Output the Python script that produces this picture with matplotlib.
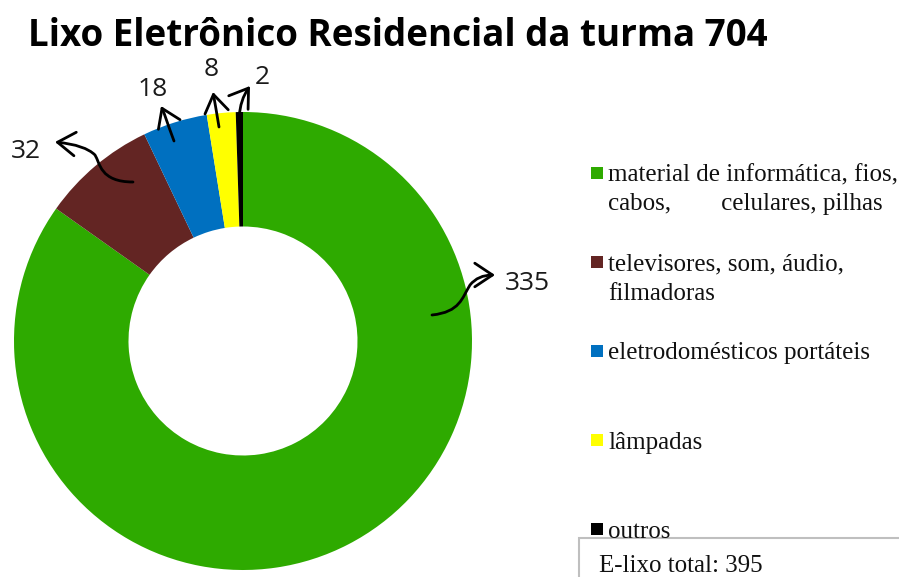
import matplotlib
matplotlib.use("Agg")
import matplotlib.pyplot as plt
from matplotlib.patches import Rectangle, FancyArrowPatch
from matplotlib.path import Path

# data
categories = ["material de informática, fios,\ncabos,        celulares, pilhas",
              "televisores, som, áudio,\nfilmadoras",
              "eletrodomésticos portáteis",
              "lâmpadas",
              "outros"]
values = [335, 32, 18, 8, 2]
colors = ["#2eaa00", "#632523", "#0070c0", "#ffff00", "#000000"]
total = 395

W, H = 899, 577
fig = plt.figure(figsize=(W / 100, H / 100), dpi=100)

# donut: center (243, 341) px, radius 229 px
R = 229
ax = fig.add_axes([(243 - R) / W, (H - 341 - R) / H, 2 * R / W, 2 * R / H])
ax.pie(values, colors=colors, startangle=90, counterclock=False,
       wedgeprops=dict(width=0.5, edgecolor="none"))
ax.set_xlim(-1, 1)
ax.set_ylim(-1, 1)
ax.set_aspect("equal")

fig.text(28 / W, 1 - 36 / H, "Lixo Eletrônico Residencial da turma 704",
         fontsize=26.5, fontweight="bold", family="Open Sans", va="center", ha="left")

# value labels with hand-drawn style arrows (pie data coords)
def px(x, y):
    return ((x - 243) / R, (341 - y) / R)

lab_font = dict(fontsize=19, family="Open Sans", color="#1a1a1a")

# each: text pos, bezier path points
labels = [
    (values[0], px(527, 283), [px(432, 315), px(460, 312), px(462, 298), px(470, 285), px(478, 275), px(495, 275)]),
    (values[1], px(26, 152), [px(133, 182), px(100, 182), px(100, 163), px(95, 155), px(85, 145), px(55, 142)]),
    (values[2], px(153, 90), [px(174, 141), px(168, 125), px(165, 115), px(161, 106)]),
    (values[3], px(211, 70), [px(219, 127), px(217, 115), px(215, 103), px(213, 92)]),
    (values[4], px(262, 77), [px(239, 118), px(240, 105), px(243, 96), px(250, 86)]),
]

for v, tpos, pts in labels:
    ax.text(tpos[0], tpos[1], str(v), ha="center", va="center", **lab_font)
    if len(pts) == 6:
        codes = [Path.MOVETO] + [Path.CURVE4] * 3 + [Path.CURVE3] * 2
    else:
        codes = [Path.MOVETO] + [Path.CURVE4] * 3
    arr = FancyArrowPatch(path=Path(pts, codes), arrowstyle="->,head_length=0.75,head_width=0.5",
                          mutation_scale=17, lw=2, color="black", clip_on=False)
    ax.add_patch(arr)

# legend drawn manually
for i, (lab, col) in enumerate(zip(categories, colors)):
    yc = 173 + 89 * i
    fig.patches.append(Rectangle((591 / W, 1 - (yc + 6) / H), 12 / W, 12 / H,
                                 transform=fig.transFigure, facecolor=col, edgecolor="none"))
    for j, line in enumerate(lab.split("\n")):
        fig.text(608 / W, 1 - (yc + 29 * j) / H, line, fontsize=18, family="Liberation Serif",
                 va="center_baseline", ha="left", color="#111111")

# total box
fig.patches.append(Rectangle((579 / W, -0.05), 0.5, (H - 538) / H + 0.05,
                             transform=fig.transFigure, facecolor="white",
                             edgecolor="#bfbfbf", lw=1.5))
fig.text(599 / W, 1 - 564 / H, "E-lixo total: %d" % total, fontsize=18,
         family="Liberation Serif", va="center_baseline", ha="left", color="#111111")

fig.savefig("out.png", dpi=100)
